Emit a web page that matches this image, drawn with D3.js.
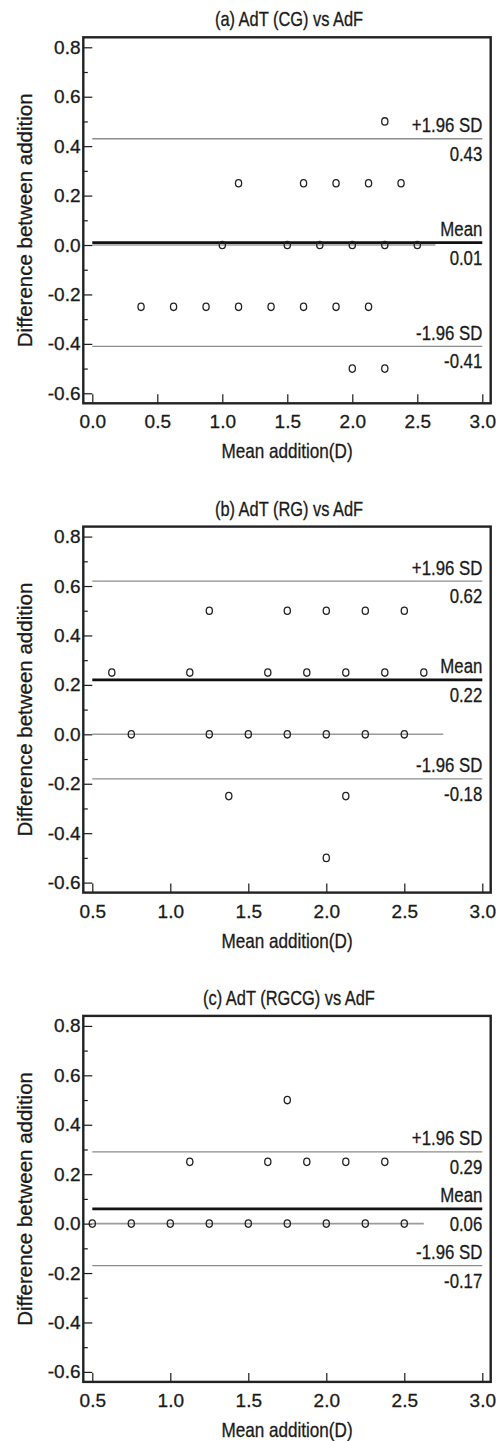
<!DOCTYPE html>
<html>
<head>
<meta charset="utf-8">
<script src="https://cdn.jsdelivr.net/npm/d3@7"></script>
<style>
  html, body { margin: 0; padding: 0; background: #fff; }
  svg { display: block; }
  text { font-family: "Liberation Sans", Arial, Helvetica, sans-serif; fill: #1a1a1a; stroke: #1a1a1a; stroke-width: 0.3px; }
</style>
</head>
<body>
<svg id="chart" width="502" height="1441"></svg>
<script>
// ---------- data ----------
const titles = ["(a)  AdT (CG) vs AdF", "(b)  AdT (RG) vs AdF", "(c)  AdT (RGCG) vs AdF"];
const xLabel = "Mean addition(D)";
const yLabel = "Difference between addition";

const xDomains = [[0, 3], [0.5, 3], [0.5, 3]];
const xTicksA = [0, 0.5, 1.0, 1.5, 2.0, 2.5, 3.0];
const xTicksBC = [0.5, 1.0, 1.5, 2.0, 2.5, 3.0];
const yDomain = [-0.6, 0.8];
const yTicks = [-0.6, -0.4, -0.2, 0, 0.2, 0.4, 0.6, 0.8];
const yMinorTicks = [-0.5, -0.3, -0.1, 0.1, 0.3, 0.5, 0.7];

const meanA = [2.25, 1.125, 1.625, 1.875, 2.125, 2.375, 1.0, 1.5, 1.75, 2.0, 2.25, 2.5,
               0.375, 0.625, 0.875, 1.125, 1.375, 1.625, 1.875, 2.125, 2.0, 2.25];
const diffA = [0.5, 0.25, 0.25, 0.25, 0.25, 0.25, 0, 0, 0, 0, 0, 0,
               -0.25, -0.25, -0.25, -0.25, -0.25, -0.25, -0.25, -0.25, -0.5, -0.5];

const meanB = [1.25, 1.75, 2.0, 2.25, 2.5,
               0.625, 1.125, 1.625, 1.875, 2.125, 2.375, 2.625,
               0.75, 1.25, 1.5, 1.75, 2.0, 2.25, 2.5,
               1.375, 2.125, 2.0];
const diffB = [0.5, 0.5, 0.5, 0.5, 0.5,
               0.25, 0.25, 0.25, 0.25, 0.25, 0.25, 0.25,
               0, 0, 0, 0, 0, 0, 0,
               -0.25, -0.25, -0.5];

const meanC = [1.75, 1.125, 1.625, 1.875, 2.125, 2.375,
               0.5, 0.75, 1.0, 1.25, 1.5, 1.75, 2.0, 2.25, 2.5];
const diffC = [0.5, 0.25, 0.25, 0.25, 0.25, 0.25,
               0, 0, 0, 0, 0, 0, 0, 0, 0];

const biasMean = [0.01, 0.22, 0.06];
const upperLoA = [0.43, 0.62, 0.29];
const lowerLoA = [-0.41, -0.18, -0.17];
const zeroLineEnd = [2.64, 2.75, 2.625];

// ---------- layout ----------
const svg = d3.select("#chart");
const panelOffsets = [0, 489.3, 978.6];
const frame = { left: 83.3, right: 490.7, top: 37.3, bottom: 403.3 };
const xRange = [92.3, 482.3];
const yRange = [393.3, 47.3];
const ink = "#1a1a1a";

const panels = [
  { title: titles[0], xs: meanA, ys: diffA, xTicks: xTicksA },
  { title: titles[1], xs: meanB, ys: diffB, xTicks: xTicksBC },
  { title: titles[2], xs: meanC, ys: diffC, xTicks: xTicksBC }
];

function squeezedText(g, x, y, str, size, sx, anchor) {
  return g.append("text")
    .attr("transform", `translate(${x},${y}) scale(${sx},1)`)
    .attr("text-anchor", anchor)
    .style("font-size", size + "px")
    .text(str);
}

const fmt = d => d.toFixed(1);

panels.forEach((p, i) => {
  const g = svg.append("g").attr("transform", `translate(0,${panelOffsets[i]})`);
  const x = d3.scaleLinear().domain(xDomains[i]).range(xRange);
  const y = d3.scaleLinear().domain(yDomain).range(yRange);

  // title
  squeezedText(g, 289, frame.top - 11, p.title, 20.5, 0.8, "middle");

  const x0 = xDomains[i][0], x1 = xDomains[i][1];
  // zero line
  g.append("line")
    .attr("x1", x(x0)).attr("x2", x(zeroLineEnd[i]))
    .attr("y1", y(0)).attr("y2", y(0))
    .attr("stroke", "#9a9a9a").attr("stroke-width", 1.6);
  // limits of agreement
  [upperLoA[i], lowerLoA[i]].forEach(v => {
    g.append("line")
      .attr("x1", x(x0)).attr("x2", x(x1))
      .attr("y1", y(v)).attr("y2", y(v))
      .attr("stroke", "#8c8c8c").attr("stroke-width", 1.3);
  });
  // mean line
  g.append("line")
    .attr("x1", x(x0)).attr("x2", x(x1))
    .attr("y1", y(biasMean[i])).attr("y2", y(biasMean[i]))
    .attr("stroke", "#111").attr("stroke-width", 2.7);

  // line labels
  const lx = x(x1);
  const labels = [
    { v: upperLoA[i], top: "+1.96 SD", bot: upperLoA[i].toFixed(2) },
    { v: biasMean[i], top: "Mean", bot: biasMean[i].toFixed(2) },
    { v: lowerLoA[i], top: "-1.96 SD", bot: lowerLoA[i].toFixed(2) }
  ];
  labels.forEach(l => {
    squeezedText(g, lx, y(l.v) - 6.5, l.top, 21, 0.8, "end");
    squeezedText(g, lx, y(l.v) + 22, l.bot, 21, 0.8, "end");
  });

  // points
  g.append("g").selectAll("ellipse")
    .data(p.xs.map((d, k) => [d, p.ys[k]]))
    .join("ellipse")
    .attr("cx", d => x(d[0]))
    .attr("cy", d => y(d[1]))
    .attr("rx", 3.1).attr("ry", 3.7)
    .attr("fill", "none")
    .attr("stroke", "#222")
    .attr("stroke-width", 1.3);

  // y axis (ticks inward)
  const yAxis = g.append("g")
    .attr("transform", `translate(${frame.left},0)`)
    .call(d3.axisLeft(y).tickValues(yTicks).tickFormat(fmt)
      .tickSizeInner(-9).tickSizeOuter(0).tickPadding(2.8));
  yAxis.select(".domain").remove();
  yAxis.selectAll("line").attr("stroke", ink).attr("stroke-width", 1.2);
  yAxis.selectAll("text").style("font-size", "19px").attr("fill", ink)
    .style("font-family", '"Liberation Sans", Arial, sans-serif');

  const yMinor = g.append("g")
    .attr("transform", `translate(${frame.left},0)`)
    .call(d3.axisLeft(y).tickValues(yMinorTicks).tickFormat("")
      .tickSizeInner(-4.5).tickSizeOuter(0));
  yMinor.select(".domain").remove();
  yMinor.selectAll("line").attr("stroke", ink).attr("stroke-width", 1.2);

  // x axis (ticks inward)
  const xAxis = g.append("g")
    .attr("transform", `translate(0,${frame.bottom})`)
    .call(d3.axisBottom(x).tickValues(p.xTicks).tickFormat(fmt)
      .tickSizeInner(-9).tickSizeOuter(0).tickPadding(11.5));
  xAxis.select(".domain").remove();
  xAxis.selectAll("line").attr("stroke", ink).attr("stroke-width", 1.2);
  xAxis.selectAll("text").style("font-size", "19px").attr("fill", ink)
    .style("font-family", '"Liberation Sans", Arial, sans-serif');

  // frame
  g.append("rect")
    .attr("x", frame.left).attr("y", frame.top)
    .attr("width", frame.right - frame.left)
    .attr("height", frame.bottom - frame.top)
    .attr("fill", "none").attr("stroke", "#222").attr("stroke-width", 2.4);

  // x label
  squeezedText(g, 287, frame.bottom + 55, xLabel, 21, 0.815, "middle");

  // y label
  g.append("text")
    .attr("transform", `translate(32,${(frame.top + frame.bottom) / 2}) rotate(-90)`)
    .attr("text-anchor", "middle")
    .style("font-size", "20.5px")
    .text(yLabel);
});
</script>
</body>
</html>
